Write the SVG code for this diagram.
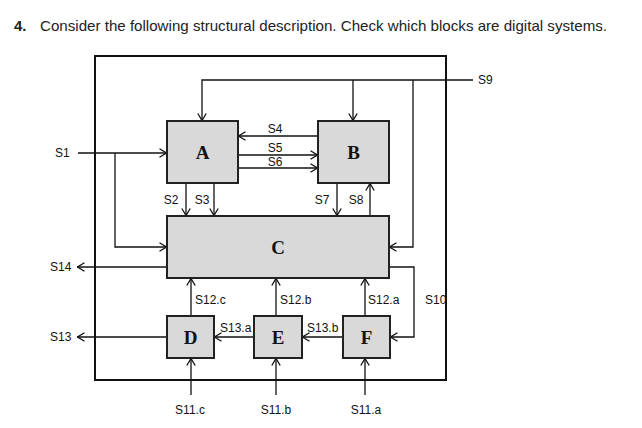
<svg xmlns="http://www.w3.org/2000/svg" width="642" height="428" viewBox="0 0 642 428">
<defs>
<style>
.t{font-family:"Liberation Sans","Open Sans",sans-serif;font-size:15px;fill:#222}
.l{font-family:"Liberation Sans","Open Sans",sans-serif;font-size:12px;fill:#111}
.b{font-family:"Liberation Serif","Times New Roman",serif;font-size:19px;font-weight:bold;fill:#111}
.box{fill:#d9d9d9;stroke:#222;stroke-width:2}
.c{fill:none;stroke:#111;stroke-width:1.3}
.a{marker-end:url(#ar)}
</style>
<marker id="ar" viewBox="0 0 8 10" refX="8" refY="5" markerWidth="8" markerHeight="10" markerUnits="userSpaceOnUse" orient="auto">
<path d="M0.5,0.8 L7.5,5 L0.5,9.2" fill="none" stroke="#111" stroke-width="1.3"/>
</marker>
</defs>
<rect width="642" height="428" fill="#fff"/>
<text class="t" x="14" y="31" font-weight="bold">4.</text>
<text class="t" x="40" y="31" textLength="567" lengthAdjust="spacingAndGlyphs">Consider the following structural description. Check which blocks are digital systems.</text>
<rect x="95" y="56" width="351" height="324" fill="none" stroke="#111" stroke-width="2"/>
<g id="connectors">
<polyline class="c a" points="473,80 202,80 202,121"/>
<line class="c a" x1="353" y1="80" x2="353" y2="121"/>
<polyline class="c a" points="413,80 413,247 389,247"/>
<line class="c a" x1="318" y1="136" x2="238" y2="136"/>
<line class="c a" x1="238" y1="155" x2="318" y2="155"/>
<line class="c a" x1="238" y1="168" x2="318" y2="168"/>
<line class="c a" x1="78" y1="153" x2="167" y2="153"/>
<polyline class="c a" points="115,153 115,247 167,247"/>
<line class="c a" x1="186" y1="183" x2="186" y2="216"/>
<line class="c a" x1="214" y1="183" x2="214" y2="216"/>
<line class="c a" x1="337" y1="183" x2="337" y2="216"/>
<line class="c a" x1="370" y1="216" x2="370" y2="183"/>
<line class="c a" x1="167" y1="267" x2="77" y2="267"/>
<polyline class="c a" points="389,267 414,267 414,337 390,337"/>
<line class="c a" x1="191" y1="316" x2="191" y2="278"/>
<line class="c a" x1="276" y1="316" x2="276" y2="278"/>
<line class="c a" x1="365" y1="316" x2="365" y2="278"/>
<line class="c a" x1="254" y1="337" x2="214" y2="337"/>
<line class="c a" x1="343" y1="337" x2="302" y2="337"/>
<line class="c a" x1="167" y1="337" x2="77" y2="337"/>
<line class="c a" x1="191" y1="395" x2="191" y2="358"/>
<line class="c a" x1="276" y1="395" x2="276" y2="358"/>
<line class="c a" x1="365" y1="395" x2="365" y2="358"/>
</g>
<g id="A"><rect class="box" x="167" y="121" width="71" height="62"/><text class="b" x="202.5" y="159" text-anchor="middle">A</text></g>
<g id="B"><rect class="box" x="318" y="121" width="71" height="62"/><text class="b" x="353.5" y="159" text-anchor="middle">B</text></g>
<g id="C"><rect class="box" x="167" y="216" width="222" height="62"/><text class="b" x="278" y="254" text-anchor="middle">C</text></g>
<g id="D"><rect class="box" x="167" y="316" width="47" height="42"/><text class="b" x="190.5" y="344" text-anchor="middle">D</text></g>
<g id="E"><rect class="box" x="254" y="316" width="48" height="42"/><text class="b" x="278" y="344" text-anchor="middle">E</text></g>
<g id="F"><rect class="box" x="343" y="316" width="47" height="42"/><text class="b" x="366.5" y="344" text-anchor="middle">F</text></g>
<g id="labels">
<text class="l" x="478" y="84">S9</text>
<text class="l" x="55" y="157">S1</text>
<text class="l" x="275" y="133" text-anchor="middle">S4</text>
<text class="l" x="275" y="152" text-anchor="middle">S5</text>
<text class="l" x="275" y="166" text-anchor="middle">S6</text>
<text class="l" x="171" y="204" text-anchor="middle">S2</text>
<text class="l" x="202" y="204" text-anchor="middle">S3</text>
<text class="l" x="322" y="204" text-anchor="middle">S7</text>
<text class="l" x="356" y="204" text-anchor="middle">S8</text>
<text class="l" x="50" y="271">S14</text>
<text class="l" x="50" y="341">S13</text>
<text class="l" x="425" y="304">S10</text>
<text class="l" x="195" y="304">S12.c</text>
<text class="l" x="280" y="304">S12.b</text>
<text class="l" x="368" y="304">S12.a</text>
<text class="l" x="220" y="332">S13.a</text>
<text class="l" x="307" y="332">S13.b</text>
<text class="l" x="190" y="414" text-anchor="middle">S11.c</text>
<text class="l" x="276" y="414" text-anchor="middle">S11.b</text>
<text class="l" x="366" y="414" text-anchor="middle">S11.a</text>
</g>
</svg>
